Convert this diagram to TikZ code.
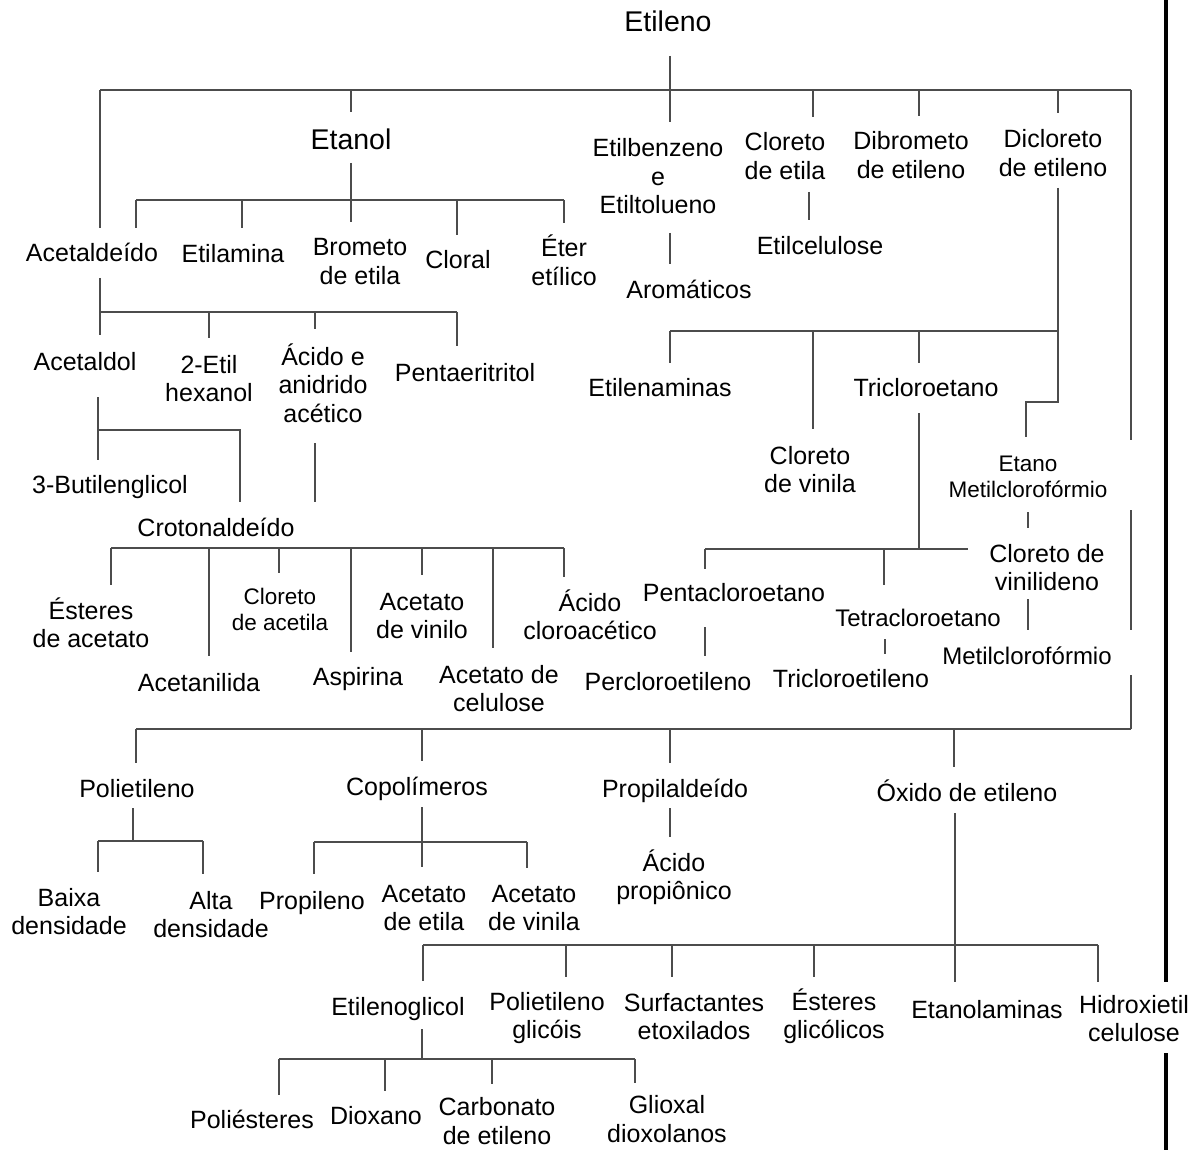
\documentclass[tikz,border=0pt]{standalone}
\usepackage{fontspec}
\setmainfont{Liberation Sans}
\begin{document}
\begin{tikzpicture}[x=1pt,y=-1pt,
  lbl/.style={font=\fontsize{25}{28.5}\selectfont, align=center, anchor=base, inner sep=0pt},
  bigl/.style={lbl, font=\fontsize{28.5}{32}\selectfont},
  smalll/.style={lbl, font=\fontsize{22.5}{26}\selectfont},
  midl/.style={lbl, font=\fontsize{24}{27}\selectfont},
  link/.style={line width=1.1pt, draw=black!70},
  frame/.style={line width=3.6pt, draw=black}]
\useasboundingbox (0,0) rectangle (1194,1150);

% ---------- labels (placed on the baseline of their last line) ----------
\node[bigl] (etileno) at (668,32) {Etileno};
\node[bigl] (etanol) at (351,150) {Etanol};
\node[lbl] (acetaldeido) at (92,262) {Acetaldeído};
\node[lbl] (etilamina) at (233,263) {Etilamina};
\node[lbl] (brometo) at (360,284.5) {Brometo\\de etila};
\node[lbl] (cloral) at (458,269) {Cloral};
\node[lbl] (eter) at (564,285.5) {Éter\\etílico};
\node[lbl] (etilbenz) at (658,214) {Etilbenzeno\\e\\Etiltolueno};
\node[lbl] (aromaticos) at (689,299) {Aromáticos};
\node[lbl] (cloretila) at (785,179.5) {Cloreto\\de etila};
\node[lbl] (etilcel) at (820,255) {Etilcelulose};
\node[lbl] (dibrometo) at (911,178.5) {Dibrometo\\de etileno};
\node[lbl] (dicloreto) at (1053,176.5) {Dicloreto\\de etileno};

\node[lbl] (acetaldol) at (85,370) {Acetaldol};
\node[lbl] (etilhex) at (209,401.5) {2-Etil\\hexanol};
\node[lbl] (acido) at (323,422) {Ácido e\\anidrido\\acético};
\node[lbl] (pentaeri) at (465,381) {Pentaeritritol};
\node[lbl] (butilen) at (110,493) {3-Butilenglicol};
\node[lbl] (croton) at (216,536) {Crotonaldeído};

\node[lbl] (esteresac) at (91,647.5) {Ésteres\\de acetato};
\node[lbl] (acetanilida) at (199,691) {Acetanilida};
\node[smalll] (cloracetila) at (280,630) {Cloreto\\de acetila};
\node[lbl] (acetvinilo) at (422,638.5) {Acetato\\de vinilo};
\node[lbl] (aspirina) at (358,685) {Aspirina};
\node[lbl] (acetcel) at (499,711.5) {Acetato de\\celulose};
\node[lbl] (cloroacetico) at (590,639.5) {Ácido\\cloroacético};

\node[lbl] (etilenaminas) at (660,396) {Etilenaminas};
\node[lbl] (tricloroetano) at (926,396) {Tricloroetano};
\node[lbl] (clorvinila) at (810,492.5) {Cloreto\\de vinila};
\node[smalll] (etanometil) at (1028,497) {Etano\\Metilclorofórmio};
\node[lbl] (vinilideno) at (1047,590.5) {Cloreto de\\vinilideno};
\node[midl] (metilcloro) at (1027,664) {Metilclorofórmio};
\node[lbl] (pentacloro) at (734,601) {Pentacloroetano};
\node[lbl] (percloro) at (668,690) {Percloroetileno};
\node[midl] (tetracloro) at (918,626) {Tetracloroetano};
\node[lbl] (tricloroetileno) at (851,687) {Tricloroetileno};

\node[lbl] (polietileno) at (137,797) {Polietileno};
\node[lbl] (copolimeros) at (417,795) {Copolímeros};
\node[lbl] (propilaldeido) at (675,797) {Propilaldeído};
\node[lbl] (oxido) at (967,801) {Óxido de etileno};
\node[lbl] (baixa) at (69,934.5) {Baixa\\densidade};
\node[lbl] (alta) at (211,937.5) {Alta\\densidade};
\node[lbl] (propileno) at (312,909) {Propileno};
\node[lbl] (acetetila) at (424,930.5) {Acetato\\de etila};
\node[lbl] (acetvinila) at (534,930.5) {Acetato\\de vinila};
\node[lbl] (acpropionico) at (674,899.5) {Ácido\\propiônico};

\node[lbl] (etilenoglicol) at (398,1015) {Etilenoglicol};
\node[lbl] (polietglicois) at (547,1038.5) {Polietileno\\glicóis};
\node[lbl] (surfact) at (694,1039.5) {Surfactantes\\etoxilados};
\node[lbl] (esteresgl) at (834,1038.5) {Ésteres\\glicólicos};
\node[lbl] (etanolaminas) at (987,1018) {Etanolaminas};
\node[lbl] (hidroxi) at (1134,1041.5) {Hidroxietil\\celulose};
\node[lbl] (poliesteres) at (252,1128) {Poliésteres};
\node[lbl] (dioxano) at (376,1124) {Dioxano};
\node[lbl] (carbonato) at (497,1144) {Carbonato\\de etileno};
\node[lbl] (glioxal) at (667,1142) {Glioxal\\dioxolanos};

% ---------- connectors ----------
% Etileno and its first level
\draw[link] (670,56) -- (670,90);
\draw[link] (100,90) -- (1131,90);
\draw[link] (100,90) -- (100,228);
\foreach \x/\y in {351/112, 670/122, 813/117, 919/116, 1058/113}
  \draw[link] (\x,90) -- (\x,\y);
\draw[link] (1131,90) -- (1131,440);
\draw[link] (1131,510) -- (1131,630);
\draw[link] (1131,675) -- (1131,729);

% Etanol
\draw[link] (351,163) -- (351,200);
\draw[link] (136,200) -- (564,200);
\foreach \x/\y in {136/228, 242/228, 351/222, 457/235, 564/223}
  \draw[link] (\x,200) -- (\x,\y);

% Acetaldeido
\draw[link] (100,278) -- (100,312);
\draw[link] (100,312) -- (457,312);
\foreach \x/\y in {100/335, 209/338, 315/329, 457/346}
  \draw[link] (\x,312) -- (\x,\y);

% Acetaldol
\draw[link] (98,397) -- (98,460);
\draw[link] (98,430) -- (240,430) -- (240,502);

% Acido e anidrido acetico
\draw[link] (315,443) -- (315,502);
\draw[link] (111,548) -- (564,548);
\foreach \x/\y in {111/585, 209/656, 279/573, 351/652, 422/575, 493/648, 564/577}
  \draw[link] (\x,548) -- (\x,\y);

% Etilbenzeno, cloreto de etila
\draw[link] (670,233) -- (670,264);
\draw[link] (809,192) -- (809,220);

% Dicloreto de etileno
\draw[link] (1058,188) -- (1058,402) -- (1026,402) -- (1026,437);
\draw[link] (670,331) -- (1058,331);
\foreach \x/\y in {670/363, 813/429, 919/363}
  \draw[link] (\x,331) -- (\x,\y);

% Tricloroetano
\draw[link] (919,413) -- (919,549);
\draw[link] (705,549) -- (968,549);
\draw[link] (705,549) -- (705,569);
\draw[link] (884,549) -- (884,585);
\draw[link] (1028,512) -- (1028,528);
\draw[link] (1028,599) -- (1028,630);
\draw[link] (705,627) -- (705,656);
\draw[link] (885,639) -- (885,654);

% lower level
\draw[link] (136,729) -- (1131,729);
\foreach \x/\y in {136/763, 422/761, 670/763, 954/767}
  \draw[link] (\x,729) -- (\x,\y);

% Polietileno
\draw[link] (133,808) -- (133,841);
\draw[link] (98,841) -- (203,841);
\draw[link] (98,841) -- (98,872);
\draw[link] (203,841) -- (203,874);

% Copolimeros
\draw[link] (422,807) -- (422,842);
\draw[link] (314,842) -- (527,842);
\foreach \x/\y in {314/874, 422/867, 527/868}
  \draw[link] (\x,842) -- (\x,\y);

% Propilaldeido
\draw[link] (670,808) -- (670,837);

% Oxido de etileno
\draw[link] (955,813) -- (955,945);
\draw[link] (423,945) -- (1098,945);
\foreach \x/\y in {423/981, 566/977, 672/977, 814/977, 955/982, 1098/982}
  \draw[link] (\x,945) -- (\x,\y);

% Etilenoglicol
\draw[link] (422,1029) -- (422,1059);
\draw[link] (279,1059) -- (635,1059);
\foreach \x/\y in {279/1095, 385/1091, 492/1084, 635/1083}
  \draw[link] (\x,1059) -- (\x,\y);

% heavy rule on the right
\draw[frame] (1166,0) -- (1166,982);
\draw[frame] (1166,1053) -- (1166,1150);
\end{tikzpicture}
\end{document}
